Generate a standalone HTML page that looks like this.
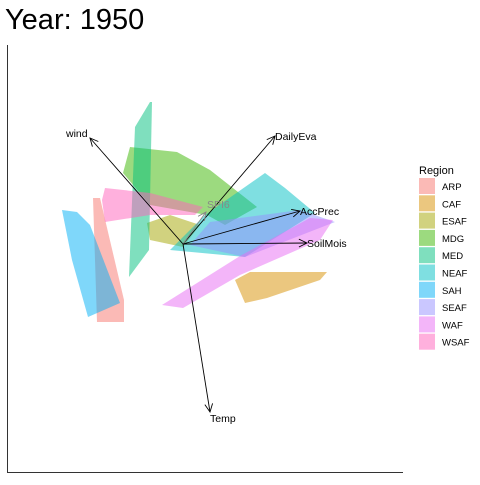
<!DOCTYPE html>
<html><head><meta charset="utf-8"><style>
body{margin:0;background:#fff;width:480px;height:480px;overflow:hidden}
svg text{font-family:"Liberation Sans",sans-serif}
</style></head><body>
<svg id="c" width="480" height="480">
<text x="5" y="29" font-size="29" fill="#000">Year: 1950</text>
<line x1="7.5" y1="45" x2="7.5" y2="472.5" stroke="#333"/>
<line x1="7" y1="472.5" x2="403" y2="472.5" stroke="#333"/>
<g id="polys"></g><g id="arrows"></g><g id="legend"></g>
</svg>
<script>
const regions=["ARP","CAF","ESAF","MDG","MED","NEAF","SAH","SEAF","WAF","WSAF"];
const colors=["#F8766D","#D89000","#A3A500","#39B600","#00BF7D","#00BFC4","#00B0F6","#9590FF","#E76BF3","#FF62BC"];
// hull vertices in PCA units (x right, y up)
const hulls={
ARP:[[-0.90,0.46],[-0.83,0.46],[-0.59,-0.56],[-0.59,-0.78],[-0.86,-0.78]],
CAF:[[0.52,-0.36],[0.67,-0.28],[1.44,-0.28],[1.37,-0.36],[0.84,-0.54],[0.62,-0.59]],
ESAF:[[-0.36,0.21],[-0.33,0.04],[0.00,-0.03],[0.17,0.19],[-0.13,0.29]],
MDG:[[-0.53,0.97],[-0.06,0.92],[0.27,0.74],[0.74,0.37],[0.42,0.19],[0.24,0.29],[-0.33,0.39],[-0.60,0.71]],
MED:[[-0.48,1.17],[-0.33,1.42],[-0.31,1.42],[-0.34,-0.06],[-0.54,-0.33]],
NEAF:[[-0.13,-0.06],[0.22,0.29],[0.82,0.71],[1.02,0.56],[1.32,0.31],[0.62,-0.13]],
SAH:[[-1.21,0.34],[-1.06,0.32],[-0.93,0.19],[-0.63,-0.59],[-0.95,-0.73],[-1.11,-0.16]],
SEAF:[[0.27,0.22],[1.17,0.34],[1.52,0.22],[0.62,-0.13],[0.07,-0.01]],
WAF:[[-0.21,-0.61],[0.57,-0.12],[1.27,0.26],[1.50,0.24],[1.37,0.04],[0.57,-0.31],[0.00,-0.64]],
WSAF:[[-0.78,0.56],[-0.33,0.51],[0.20,0.37],[0.12,0.29],[-0.33,0.29],[-0.78,0.22],[-0.81,0.44]]
};
const vars=["wind","DailyEva","SPI6","AccPrec","SoilMois","Temp"];
const vx=[-0.93,0.92,0.23,1.17,1.24,0.27];
const vy=[1.06,1.08,0.32,0.33,0.01,-1.68];
const ox=183,oy=244,k=100;
const sx=v=>ox+v*k, sy=v=>oy-v*k;
const NS="http://www.w3.org/2000/svg";
const pg=document.getElementById("polys");
regions.forEach((r,i)=>{
 const p=document.createElementNS(NS,"polygon");
 p.setAttribute("points",hulls[r].map(q=>sx(q[0])+","+sy(q[1])).join(" "));
 p.setAttribute("fill",colors[i]);p.setAttribute("fill-opacity","0.5");
 
 
 pg.appendChild(p);
});
const ag=document.getElementById("arrows");
vars.forEach((v,i)=>{
 const x2=sx(vx[i]),y2=sy(vy[i]);
 const g=document.createElementNS(NS,"g");
 
 
 const a=Math.atan2(y2-oy,x2-ox),h=9;
 const col=v==="SPI6"?"#888":"#000";
 g.innerHTML=`<line x1="${ox}" y1="${oy}" x2="${x2}" y2="${y2}" stroke="${col}" stroke-width="0.9"/>
<polyline points="${x2-h*Math.cos(a-0.45)},${y2-h*Math.sin(a-0.45)} ${x2},${y2} ${x2-h*Math.cos(a+0.45)},${y2-h*Math.sin(a+0.45)}" fill="none" stroke="${col}" stroke-width="0.9"/>`;
 const t=document.createElementNS(NS,"text");
 let tx=x2,ty=y2+4,anc="start";
 if(v==="wind"){tx=x2-24;ty=y2-1;}
 if(v==="Temp"){ty=y2+10;}
 if(v==="SPI6"){tx=x2+1;ty=y2-4;}
 t.setAttribute("x",tx);t.setAttribute("y",ty);t.setAttribute("font-size","10.5");t.setAttribute("fill",col);t.setAttribute("text-anchor",anc);
 t.textContent=v;
 
 
 g.appendChild(t);ag.appendChild(g);
});
const lg=document.getElementById("legend");


lg.innerHTML='<text x="419" y="174" font-size="11">Region</text>';
regions.forEach((r,i)=>{
 const y=178+i*17.3;
 const g=document.createElementNS(NS,"g");
 
 
 g.innerHTML=`<rect x="419" y="${y}" width="16" height="16" fill="${colors[i]}" fill-opacity="0.5"/><text x="442" y="${y+12}" font-size="9.5">${r}</text>`;
 lg.appendChild(g);
});
</script>
</body></html>
